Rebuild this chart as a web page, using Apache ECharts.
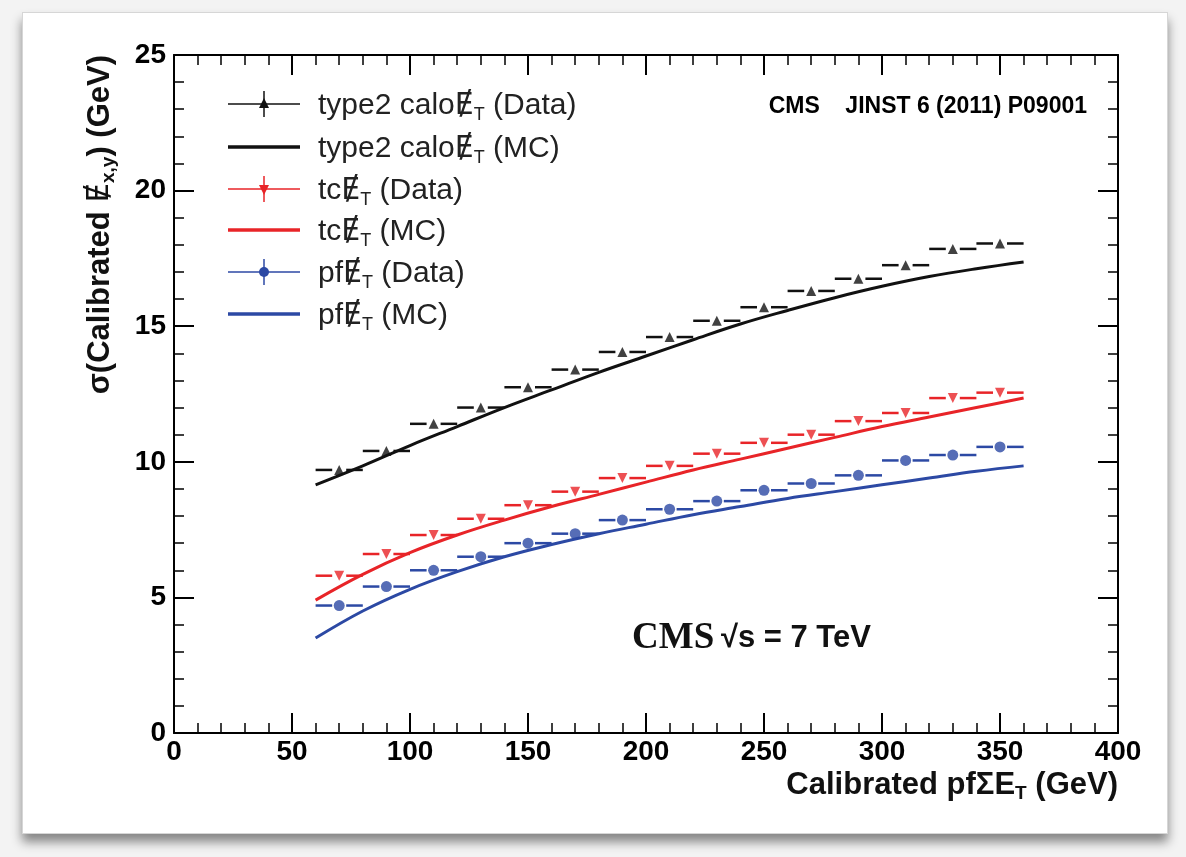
<!DOCTYPE html>
<html>
<head>
<meta charset="utf-8">
<script src="https://cdn.jsdelivr.net/npm/echarts@6/dist/echarts.min.js"></script>
<style>
  html, body { margin: 0; padding: 0; background: #f3f3f3; }
  #panel {
    position: absolute; left: 22px; top: 12px; width: 1144px; height: 820px;
    background: #fff; border: 1px solid #d6d6d6;
    box-shadow: 0 8px 10px rgba(0, 0, 0, 0.45);
  }
  #chart { position: absolute; left: 0; top: 0; width: 1186px; height: 857px; }
</style>
</head>
<body>
<div id="panel"></div>
<div id="chart"></div>
<script>
// bin centres (GeV) and measured resolution
const binX = [70, 90, 110, 130, 150, 170, 190, 210, 230, 250, 270, 290, 310, 330, 350];
const binHalf = 10;
const caloData = [9.7, 10.4, 11.4, 12.0, 12.75, 13.4, 14.05, 14.6, 15.2, 15.7, 16.3, 16.75, 17.25, 17.85, 18.05];
const tcData = [5.8, 6.6, 7.3, 7.9, 8.4, 8.9, 9.4, 9.85, 10.3, 10.7, 11.0, 11.5, 11.8, 12.35, 12.55];
const pfData = [4.7, 5.4, 6.0, 6.5, 7.0, 7.35, 7.85, 8.25, 8.55, 8.95, 9.2, 9.5, 10.05, 10.25, 10.55];

// MC curves
const mcX = [60, 80, 100, 120, 140, 160, 180, 200, 220, 240, 260, 280, 300, 320, 340, 360];
const caloMC = [9.15, 9.85, 10.6, 11.3, 12.0, 12.65, 13.3, 13.9, 14.5, 15.08, 15.58, 16.05, 16.47, 16.83, 17.12, 17.37];
const tcMC = [4.9, 5.85, 6.65, 7.3, 7.85, 8.35, 8.8, 9.25, 9.7, 10.1, 10.5, 10.9, 11.3, 11.65, 12.0, 12.35];
const pfMC = [3.5, 4.5, 5.3, 5.95, 6.5, 6.95, 7.35, 7.7, 8.05, 8.35, 8.65, 8.9, 9.15, 9.4, 9.65, 9.85];

const xTicks = ['0', '50', '100', '150', '200', '250', '300', '350', '400'];
const yTicks = ['0', '5', '10', '15', '20', '25'];

const BLACK = '#111111', RED = '#e82428', BLUE = '#2c49a4';
const SANS = 'Liberation Sans, Arial, Helvetica, sans-serif';

function pairs(xs, ys) { return xs.map((x, i) => [x, ys[i]]); }

function errRender(color) {
  return function (params, api) {
    const x = api.value(0), y = api.value(1);
    const c = api.coord([x, y]);
    const l = api.coord([x - binHalf, y]);
    const r = api.coord([x + binHalf, y]);
    const gap = 7;
    const st = { stroke: color, lineWidth: 2.5 };
    return {
      type: 'group',
      children: [
        { type: 'line', shape: { x1: l[0], y1: l[1], x2: c[0] - gap, y2: c[1] }, style: st },
        { type: 'line', shape: { x1: c[0] + gap, y1: c[1], x2: r[0], y2: r[1] }, style: st }
      ]
    };
  };
}

function valueAxis(pos, min, max, step, labels, showLabel) {
  return {
    type: 'value', position: pos, min: min, max: max, interval: step,
    axisLine: { onZero: false, lineStyle: { color: '#000', width: 2 } },
    axisTick: { inside: true, length: 20, lineStyle: { color: '#000', width: 2 } },
    minorTick: { show: true, splitNumber: 5, length: 10, lineStyle: { color: '#000', width: 1.5 } },
    splitLine: { show: false },
    axisLabel: {
      show: showLabel, color: '#000', fontFamily: SANS, fontWeight: 'bold', fontSize: 28,
      margin: pos === 'left' ? 8 : 5,
      formatter: v => labels[Math.round((v - min) / step)]
    }
  };
}

// legend rows
const legendRows = [
  { y: 104, name: 'type2 calo', tail: ' (Data)', color: BLACK, data: 'tri' },
  { y: 147, name: 'type2 calo', tail: ' (MC)', color: BLACK },
  { y: 189, name: 'tc', tail: ' (Data)', color: RED, data: 'triDown' },
  { y: 230, name: 'tc', tail: ' (MC)', color: RED },
  { y: 272, name: 'pf', tail: ' (Data)', color: BLUE, data: 'circle' },
  { y: 314, name: 'pf', tail: ' (MC)', color: BLUE }
];

const graphics = [];
legendRows.forEach(row => {
  graphics.push({
    type: 'line', shape: { x1: 228, y1: row.y, x2: 300, y2: row.y },
    style: { stroke: row.color, lineWidth: row.data ? 1.5 : 3.5 }
  });
  if (row.data) {
    graphics.push({
      type: 'line', shape: { x1: 264, y1: row.y - 13, x2: 264, y2: row.y + 13 },
      style: { stroke: row.color, lineWidth: 1.5 }
    });
    if (row.data === 'circle') {
      graphics.push({ type: 'circle', shape: { cx: 264, cy: row.y, r: 5 }, style: { fill: row.color } });
    } else {
      const s = row.data === 'tri' ? 1 : -1;
      graphics.push({
        type: 'polygon',
        shape: { points: [[264, row.y - 6 * s], [259, row.y + 4 * s], [269, row.y + 4 * s]] },
        style: { fill: row.color }
      });
    }
  }
  graphics.push({
    type: 'text', x: 318, y: row.y + 2,
    style: {
      text: row.name + '{e|Ɇ}{s|T}' + row.tail,
      fill: '#222', font: '30px ' + SANS, textVerticalAlign: 'middle', lineHeight: 36,
      rich: {
        e: { fontSize: 30, fontFamily: 'DejaVu Sans', lineHeight: 36, fill: '#222' },
        s: { fontSize: 18, fontFamily: SANS, verticalAlign: 'bottom', lineHeight: 20, fill: '#222' }
      }
    }
  });
});

graphics.push(
  {
    type: 'text', x: 1087, y: 107,
    style: {
      text: 'CMS    JINST 6 (2011) P09001', fill: '#000',
      font: 'bold 23px ' + SANS, textAlign: 'right', textVerticalAlign: 'middle'
    }
  },
  {
    type: 'text', x: 632, y: 638,
    style: {
      text: '{c|CMS}  {r|√s = 7 TeV}', textVerticalAlign: 'middle',
      rich: {
        c: { fontFamily: 'Liberation Serif, Times New Roman, serif', fontWeight: 'bold', fontSize: 37, fill: '#111' },
        r: { fontFamily: SANS, fontWeight: 'bold', fontSize: 31, fill: '#111' }
      }
    }
  },
  {
    type: 'text', x: 1118, y: 785,
    style: {
      text: 'Calibrated pfΣE{s|T} (GeV)', fill: '#111',
      font: 'bold 31px ' + SANS, textAlign: 'right', textVerticalAlign: 'middle', lineHeight: 36,
      rich: { s: { fontSize: 19, fontWeight: 'bold', fontFamily: SANS, verticalAlign: 'bottom', lineHeight: 20, fill: '#111' } }
    }
  },
  {
    type: 'text', x: 100, y: 55, rotation: Math.PI / 2,
    style: {
      text: 'σ(Calibrated {e|Ɇ}{s|x,y}) (GeV)', fill: '#111',
      font: 'bold 31px ' + SANS, textAlign: 'right', textVerticalAlign: 'middle', lineHeight: 36,
      rich: {
        e: { fontSize: 31, fontFamily: 'DejaVu Sans', lineHeight: 36, fill: '#111' },
        s: { fontSize: 19, fontWeight: 'bold', fontFamily: SANS, verticalAlign: 'bottom', lineHeight: 20, fill: '#111' }
      }
    }
  }
);

const chart = echarts.init(document.getElementById('chart'));
chart.setOption({
  animation: false,
  grid: { left: 174, right: 68, top: 55, bottom: 124 },
  xAxis: [
    valueAxis('bottom', 0, 400, 50, xTicks, true),
    valueAxis('top', 0, 400, 50, xTicks, false)
  ],
  yAxis: [
    valueAxis('left', 0, 25, 5, yTicks, true),
    valueAxis('right', 0, 25, 5, yTicks, false)
  ],
  graphic: graphics,
  series: [
    { name: 'type2 calo (Data) bars', type: 'custom', renderItem: errRender(BLACK), data: pairs(binX, caloData), z: 3 },
    { name: 'tc (Data) bars', type: 'custom', renderItem: errRender(RED), data: pairs(binX, tcData), z: 3 },
    { name: 'pf (Data) bars', type: 'custom', renderItem: errRender(BLUE), data: pairs(binX, pfData), z: 3 },
    { name: 'type2 calo (MC)', type: 'line', smooth: 0.4, showSymbol: false, data: pairs(mcX, caloMC),
      lineStyle: { color: BLACK, width: 3 }, z: 4 },
    { name: 'tc (MC)', type: 'line', smooth: 0.4, showSymbol: false, data: pairs(mcX, tcMC),
      lineStyle: { color: RED, width: 3 }, z: 4 },
    { name: 'pf (MC)', type: 'line', smooth: 0.4, showSymbol: false, data: pairs(mcX, pfMC),
      lineStyle: { color: BLUE, width: 3 }, z: 4 },
    { name: 'type2 calo (Data)', type: 'scatter', symbol: 'triangle', symbolSize: 10,
      data: pairs(binX, caloData), itemStyle: { color: BLACK }, z: 5 },
    { name: 'tc (Data)', type: 'scatter', symbol: 'triangle', symbolRotate: 180, symbolSize: 10,
      data: pairs(binX, tcData), itemStyle: { color: RED }, z: 5 },
    { name: 'pf (Data)', type: 'scatter', symbol: 'circle', symbolSize: 11,
      data: pairs(binX, pfData), itemStyle: { color: BLUE }, z: 5 }
  ]
});
</script>
</body>
</html>
